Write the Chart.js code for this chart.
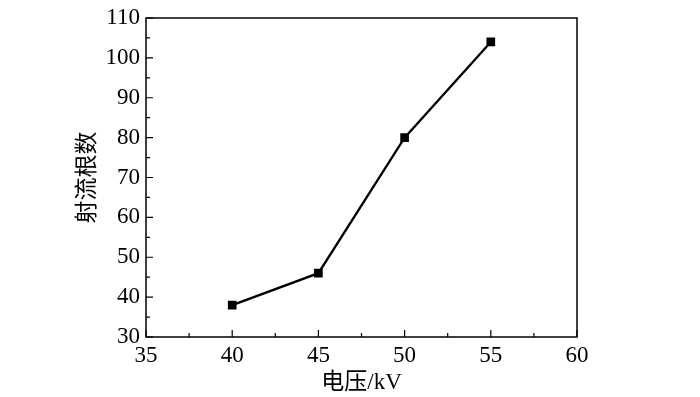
<!DOCTYPE html>
<html lang="zh">
<head>
<meta charset="UTF-8">
<title>射流根数</title>
<style>
  html, body { margin: 0; padding: 0; background: #fff; }
  #wrap { width: 700px; height: 397px; }
</style>
</head>
<body>
<div id="wrap"><canvas id="chart"></canvas></div>
<script src="https://cdn.jsdelivr.net/npm/chart.js@4.4.1/dist/chart.umd.min.js"></script>
<script>
// data
var voltage = [40, 45, 50, 55];
var jetCount = [38, 46, 80, 104];
var xTicks = [35, 40, 45, 50, 55, 60];
var yTicks = [30, 40, 50, 60, 70, 80, 90, 100, 110];

var fontStack = '"Liberation Serif", "Noto Sans CJK SC", serif';

// frame + inward ticks like the original
var frameTicks = {
  id: 'frameTicks',
  afterDraw: function(chart) {
    var c = chart.ctx, a = chart.chartArea;
    var xs = chart.scales.x, ys = chart.scales.y;
    c.save();
    c.strokeStyle = '#000';
    c.lineWidth = 1.5;
    c.strokeRect(a.left, a.top, a.right - a.left, a.bottom - a.top);
    c.lineWidth = 1.2;
    c.beginPath();
    for (var v = 35; v <= 60; v += 2.5) {
      var px = xs.getPixelForValue(v);
      var len = (v % 5 === 0) ? 7 : 4;
      c.moveTo(px, a.bottom);
      c.lineTo(px, a.bottom - len);
    }
    for (var w = 30; w <= 110; w += 5) {
      var py = ys.getPixelForValue(w);
      var l2 = (w % 10 === 0) ? 7 : 4;
      c.moveTo(a.left, py);
      c.lineTo(a.left + l2, py);
    }
    c.stroke();
    c.restore();
  }
};

new Chart(document.getElementById('chart'), {
  type: 'line',
  data: {
    datasets: [{
      data: voltage.map(function(v, i) { return { x: v, y: jetCount[i] }; }),
      borderColor: '#000',
      backgroundColor: '#000',
      borderWidth: 2.3,
      pointStyle: 'rect',
      pointRadius: 4.5,
      pointHoverRadius: 4.5,
      tension: 0
    }]
  },
  options: {
    responsive: true,
    maintainAspectRatio: false,
    animation: false,
    layout: { padding: { left: 74, right: 123, top: 18, bottom: 0 } },
    plugins: {
      legend: { display: false },
      tooltip: { enabled: false }
    },
    scales: {
      x: {
        type: 'linear',
        min: 35, max: 60,
        afterBuildTicks: function(s) { s.ticks = xTicks.map(function(v) { return { value: v }; }); },
        afterFit: function(s) { s.height = 60; s.paddingLeft = 0; s.paddingRight = 0; },
        grid: { display: false, drawTicks: false },
        border: { display: false },
        ticks: { color: '#000', font: { family: fontStack, size: 23 }, padding: 5, maxRotation: 0 },
        title: { display: true, text: '电压/kV', color: '#000', font: { family: fontStack, size: 23 }, padding: { top: 0, bottom: 0 } }
      },
      y: {
        type: 'linear',
        min: 30, max: 110,
        afterBuildTicks: function(s) { s.ticks = yTicks.map(function(v) { return { value: v }; }); },
        afterFit: function(s) { s.width = 72; s.paddingTop = 0; s.paddingBottom = 0; },
        grid: { display: false, drawTicks: false },
        border: { display: false },
        ticks: { color: '#000', font: { family: fontStack, size: 23 }, padding: 6 },
        title: { display: true, text: '射流根数', color: '#000', font: { family: fontStack, size: 23 }, padding: { top: 0, bottom: 0 } }
      }
    }
  },
  plugins: [frameTicks]
});
</script>
</body>
</html>
